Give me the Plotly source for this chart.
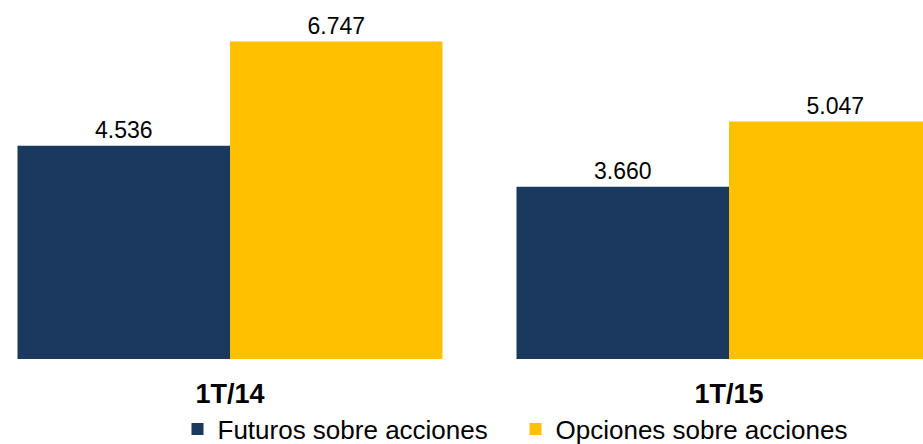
import plotly.graph_objects as go

categories = ["1T/14", "1T/15"]
futuros = [4536, 3660]
opciones = [6747, 5047]
series_names = ["Futuros sobre acciones", "Opciones sobre acciones"]
tick_labels = ["<b>1T/14</b>", "<b>1T/15</b>"]

navy = "#1B385E"
yellow = "#FFC000"
font_family = "Liberation Sans, Arial, sans-serif"

fig = go.Figure()
fig.add_trace(go.Bar(
    x=categories, y=futuros, name=series_names[0],
    marker=dict(color=navy, line=dict(width=0)),
    texttemplate="%{y:,.0f}", textposition="outside",
    textfont=dict(size=23, color="#000000", family=font_family),
    cliponaxis=False,
))
fig.add_trace(go.Bar(
    x=categories, y=opciones, name=series_names[1],
    marker=dict(color=yellow, line=dict(width=0)),
    texttemplate="%{y:,.0f}", textposition="outside",
    textfont=dict(size=23, color="#000000", family=font_family),
    cliponaxis=False,
))

fig.update_layout(
    width=923, height=444,
    margin=dict(l=0, r=0, t=0, b=85, autoexpand=False),
    paper_bgcolor="white", plot_bgcolor="white",
    barmode="group", bargap=0.1483, bargroupgap=0,
    separators=",.",
    font=dict(family=font_family, color="#000000"),
    showlegend=True,
    legend=dict(
        orientation="h", x=177.5 / 923, xanchor="left",
        y=-70 / 359, yanchor="middle",
        font=dict(size=26, color="#000000", family=font_family),
        entrywidth=293, entrywidthmode="pixels",
        itemclick=False, itemdoubleclick=False,
    ),
    xaxis=dict(
        type="category", range=[-230 / 499, 1 + 194 / 499],
        tickmode="array", tickvals=categories, ticktext=tick_labels,
        tickfont=dict(size=27, color="#000000", family=font_family),
        showgrid=False, zeroline=False, showline=False, automargin=False,
        ticks="outside", ticklen=11, tickcolor="rgba(0,0,0,0)",
    ),
    yaxis=dict(range=[0, 359 / 0.04704], visible=False, showgrid=False, zeroline=False),
)

fig.write_html("out.html", config={"displayModeBar": False},
               post_script="document.body.style.margin='0';")
